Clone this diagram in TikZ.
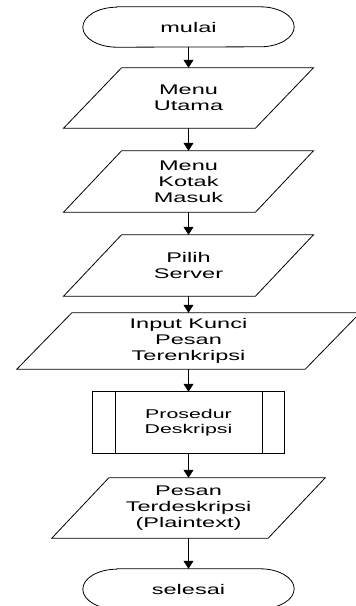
\documentclass[tikz,border=0pt]{standalone}
\usepackage{fontspec}
\newfontfamily\widefont[FakeStretch=1.68]{Liberation Sans}
\usetikzlibrary{arrows.meta,calc}
\tikzset{
  box/.style={draw=none, inner sep=0pt, align=center, font=\widefont\fontsize{14}{15.8}\selectfont},
  outline/.style={draw=black, line width=0.8pt},
  flow/.style={draw=black, line width=0.8pt, -{Triangle[width=10pt,length=8pt]}}
}
\newcommand\drawpara[2]{\draw[outline] ($(#1.north west)+(#2,0)$) -- ($(#1.north east)+(#2,0)$) -- ($(#1.south east)+(-#2,0)$) -- ($(#1.south west)+(-#2,0)$) -- cycle;}
\newcommand\drawterm[1]{\draw[outline] ($(#1.north west)+(34,0)$) -- ($(#1.north east)+(-34,0)$) arc[start angle=90,end angle=-90,x radius=34,y radius=20] -- ($(#1.south west)+(34,0)$) arc[start angle=270,end angle=90,x radius=34,y radius=20] -- cycle;}
\begin{document}
\begin{tikzpicture}[x=1pt,y=1pt]
\useasboundingbox (0,0) rectangle (356,-606);
\clip (0,0) rectangle (356,-606);
\fill[white] (0,0) rectangle (356,-606);
\node[box, minimum width=211, minimum height=40] (mulai) at (188.5,-27) {mulai};
\node[box, minimum width=191.5, minimum height=60] (menu) at (188.5,-98) {Menu\\Utama};
\node[box, minimum width=191.5, minimum height=61] (kotak) at (188.5,-181.5) {Menu\\Kotak\\Masuk};
\node[box, minimum width=191.5, minimum height=61] (server) at (188.5,-265.5) {Pilih\\Server};
\node[box, minimum width=288, minimum height=56] (input) at (188.5,-341) {Input Kunci\\Pesan\\Terenkripsi};
\node[box, minimum width=191, minimum height=61, font=\widefont\fontsize{12.7}{14.7}\selectfont] (proc) at (188.5,-422.5) {Prosedur\\Deskripsi};
\node[box, minimum width=216, minimum height=60] (pesan) at (188.5,-508) {Pesan\\Terdeskripsi\\(Plaintext)};
\node[box, minimum width=211, minimum height=40] (selesai) at (188.5,-589) {selesai};
\drawterm{mulai}
\drawpara{menu}{29}
\drawpara{kotak}{29}
\drawpara{server}{29}
\drawpara{input}{27.5}
\draw[outline] (proc.north west) rectangle (proc.south east);
\draw[outline] ($(proc.north west)+(23,0)$) -- ($(proc.south west)+(23,0)$);
\draw[outline] ($(proc.north east)+(-22,0)$) -- ($(proc.south east)+(-22,0)$);
\drawpara{pesan}{28.5}
\drawterm{selesai}
\draw[flow] (mulai) -- (menu);
\draw[flow] (menu) -- (kotak);
\draw[flow] (kotak) -- (server);
\draw[flow] (server) -- (input);
\draw[flow] (input) -- (proc);
\draw[flow] (proc) -- (pesan);
\draw[flow] (pesan) -- (selesai);
\end{tikzpicture}
\end{document}
